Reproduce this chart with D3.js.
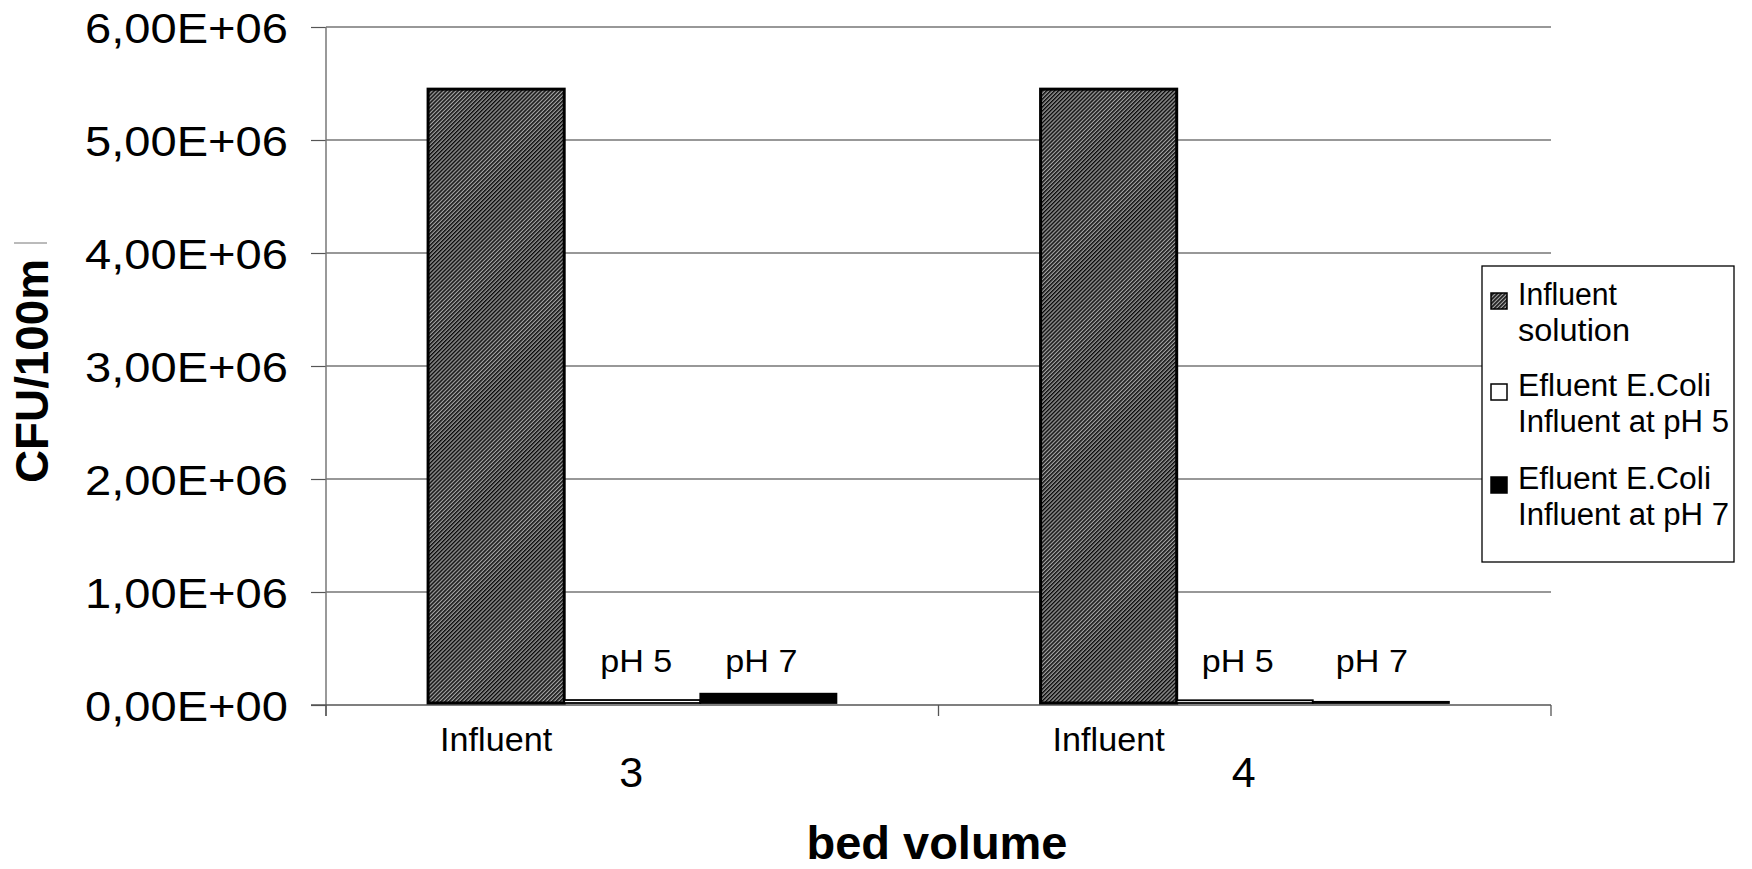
<!DOCTYPE html>
<html><head><meta charset="utf-8">
<script src="https://cdn.jsdelivr.net/npm/d3@7"></script>
<style>
html,body{margin:0;padding:0;background:#fff;}
svg{display:block;font-family:"Liberation Sans",Arial,sans-serif;}
</style></head>
<body><svg id="c" width="1752" height="869"></svg>
<script>
const categories = ["3", "4"];
const seriesNames = ["Influent solution", "Efluent E.Coli Influent at pH 5", "Efluent E.Coli Influent at pH 7"];
const influentValues = [5450000, 5450000];
const ph5Values = [44000, 42000];
const ph7Values = [100000, 28000];
const barLabels = ["Influent", "pH 5", "pH 7"];
const yTicks = [0, 1e6, 2e6, 3e6, 4e6, 5e6, 6e6];
const yTickLabels = ["0,00E+00","1,00E+06","2,00E+06","3,00E+06","4,00E+06","5,00E+06","6,00E+06"];
const legendLines = [["Influent","solution"],["Efluent E.Coli","Influent at pH 5"],["Efluent E.Coli","Influent at pH 7"]];

const seriesVals = [influentValues, ph5Values, ph7Values];
const svg = d3.select("#c");
const L = 326, R = 1551, T = 27, B = 705;

const defs = svg.append("defs");
const pat = defs.append("pattern").attr("id","hatch").attr("patternUnits","userSpaceOnUse")
  .attr("width",2.8).attr("height",2.8).attr("patternTransform","rotate(45)");
pat.append("rect").attr("width",2.8).attr("height",2.8).attr("fill","#a2a2a2");
pat.append("rect").attr("width",1.5).attr("height",2.8).attr("fill","#0a0a0a");

const x0 = d3.scaleBand().domain(categories).range([L, R]).padding(0);
const x1 = d3.scaleBand().domain(d3.range(3)).range([0, x0.bandwidth()]).paddingInner(0).paddingOuter(0.75);
const y = d3.scaleLinear().domain([0, 6e6]).range([B, T]);

// gridlines
svg.append("g").selectAll("line").data(yTicks.filter(d=>d>0)).join("line")
  .attr("x1", L).attr("x2", R).attr("y1", d=>y(d)).attr("y2", d=>y(d))
  .attr("stroke","#333").attr("stroke-width",1.2);

// y axis
const yAxis = d3.axisLeft(y).tickValues(yTicks).tickSize(15).tickPadding(23)
  .tickFormat((d,i)=>yTickLabels[i]);
const gy = svg.append("g").attr("transform",`translate(${L},0)`).call(yAxis)
  .attr("font-size", null).attr("font-family", null);
gy.select(".domain").remove();
gy.selectAll(".tick line").attr("stroke","#555").attr("stroke-width",1.2);
gy.selectAll(".tick text").style("font-size","42px").style("font-family","'Liberation Sans', Arial, sans-serif")
  .attr("fill","#000").attr("dy","0.36em").attr("textLength",203).attr("lengthAdjust","spacingAndGlyphs");
svg.append("line").attr("x1",L).attr("x2",L).attr("y1",T).attr("y2",B+11).attr("stroke","#777").attr("stroke-width",1.5);

// x axis line
svg.append("line").attr("x1",L-15).attr("x2",R).attr("y1",B).attr("y2",B).attr("stroke","#555").attr("stroke-width",1.5);

// bars
const labelOffsets = [[0, 4, -7], [0, -7, -9]];
const groups = svg.append("g").selectAll("g").data(categories).join("g")
  .attr("transform", d=>`translate(${x0(d)},0)`);
groups.each(function(cat, ci){
  const g = d3.select(this);
  seriesVals.forEach((vals, si)=>{
    const v = vals[ci];
    g.append("rect")
      .attr("x", x1(si)).attr("width", x1.bandwidth())
      .attr("y", y(v)).attr("height", Math.max(0, B - 2 - y(v)))
      .attr("fill", si===0 ? "url(#hatch)" : (si===1 ? "#fff" : "#000"))
      .attr("stroke","#000").attr("stroke-width", si===0 ? 3 : 1.8);
    const cx = x1(si)+x1.bandwidth()/2+labelOffsets[ci][si];
    if (si===0) {
      g.append("text").attr("x", cx).attr("y", 751)
        .attr("text-anchor","middle").style("font-size","34px").attr("textLength",112).attr("lengthAdjust","spacingAndGlyphs")
        .text(barLabels[si]);
    } else {
      g.append("text").attr("x", cx).attr("y", 672)
        .attr("text-anchor","middle").style("font-size","31px").attr("textLength",72).attr("lengthAdjust","spacingAndGlyphs")
        .text(barLabels[si]);
    }
  });
});

// category ticks & labels
const bounds = [L, x0(categories[1]), R];
svg.append("g").selectAll("line").data(bounds).join("line")
  .attr("x1",d=>d).attr("x2",d=>d).attr("y1",B).attr("y2",B+11).attr("stroke","#555").attr("stroke-width",1.3);
svg.append("g").selectAll("text").data(categories).join("text")
  .attr("x", d=>x0(d)+x0.bandwidth()/2-1).attr("y", 787)
  .attr("text-anchor","middle").style("font-size","43px").text(d=>d);

// axis titles
svg.append("text").attr("x", 937).attr("y", 859).attr("text-anchor","middle")
  .style("font-size","46px").attr("font-weight","bold").attr("textLength",261).attr("lengthAdjust","spacingAndGlyphs").text("bed volume");
svg.append("text").attr("transform","translate(48,371) rotate(-90)").attr("text-anchor","middle")
  .style("font-size","46px").attr("font-weight","bold").attr("textLength",224).attr("lengthAdjust","spacingAndGlyphs").text("CFU/100m");
svg.append("line").attr("x1",14).attr("x2",47).attr("y1",243).attr("y2",243).attr("stroke","#777").attr("stroke-width",1);

// legend
const lg = svg.append("g");
lg.append("rect").attr("x",1482).attr("y",266).attr("width",252).attr("height",296)
  .attr("fill","#fff").attr("stroke","#000").attr("stroke-width",1.3);
const legY = [293, 384, 477];
const swFill = ["url(#hatch)", "#fff", "#000"];
const legWidths = [[99, 112], [193, 211], [193, 211]];
legendLines.forEach((lines, i)=>{
  lg.append("rect").attr("x",1491).attr("y",legY[i]).attr("width",16).attr("height",16)
    .attr("fill", swFill[i]).attr("stroke","#000").attr("stroke-width",1.5);
  lines.forEach((t, j)=>{
    lg.append("text").attr("x",1518).attr("y", legY[i]+12+j*36).style("font-size","31px")
      .attr("textLength", legWidths[i][j]).attr("lengthAdjust","spacingAndGlyphs").text(t);
  });
});
</script></body></html>
